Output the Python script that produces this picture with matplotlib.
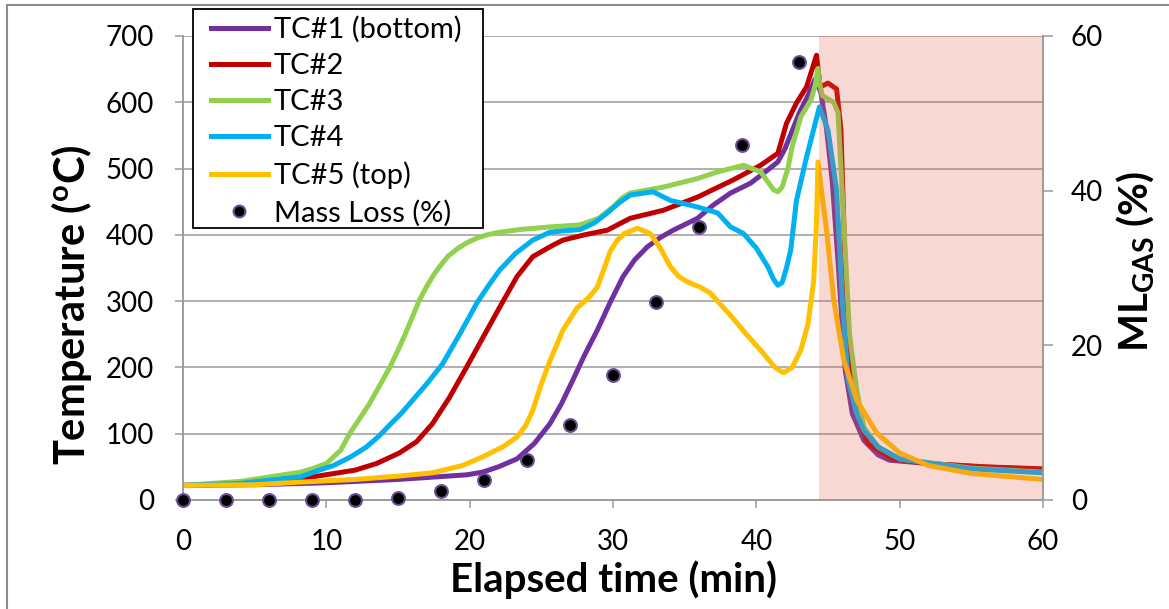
import numpy as np
import matplotlib
matplotlib.use("Agg")
import matplotlib.pyplot as plt
from matplotlib.lines import Line2D
from matplotlib.patches import Rectangle

plt.rcParams['font.family'] = ['Lato', 'DejaVu Sans']
plt.rcParams['mathtext.fontset'] = 'custom'
plt.rcParams['mathtext.rm'] = 'Lato'
plt.rcParams['mathtext.bf'] = 'Lato:bold'

# thermocouple readings (time in min, temperature in C)
t_tc1 = [0, 5, 10, 15, 19.8, 20.9, 22, 23.3, 24.5, 25.6, 26.4, 27.2, 28, 28.9, 29.8,
         30.7, 31.5, 32.4, 33.3, 34.2, 35.9, 37, 38.2, 39.6, 40.8, 41.5, 42.0, 43.0,
         43.6, 44.1, 44.5, 44.9, 45.3, 45.7, 46.2, 46.7, 47.5, 48.5, 49.3, 52, 55.6, 60]
T_tc1 = [22, 23, 26, 31, 38, 42, 50, 62, 85, 115, 145, 181, 218, 256, 298,
         337, 362, 382, 396, 407, 425, 445, 463, 478, 498, 510, 530, 584,
         610, 635, 615, 560, 480, 360, 196, 130, 90, 68, 60, 55, 50, 46]

t_tc2 = [0, 5, 8.2, 12, 13.5, 15.1, 16.3, 17.4, 18.6, 19.8, 21, 22.1, 23.3, 24.4, 25.6,
         26.5, 28, 29.6, 31.2, 33.5, 35.9, 38.4, 40.3, 41.5, 42.1, 42.8, 43.5, 44.2,
         44.45, 45.0, 45.6, 45.9, 46.2, 46.5, 47.0, 47.8, 49.5, 52, 56, 60]
T_tc2 = [22, 25, 32, 45, 55, 71, 88, 115, 155, 201, 248, 291, 337, 367, 382,
         392, 400, 407, 425, 437, 457, 483, 505, 523, 568, 599, 623, 671,
         623, 629, 620, 560, 350, 220, 130, 85, 62, 55, 50, 47]

t_tc3 = [0, 4, 8.2, 9, 10, 11, 11.65, 12.3, 13, 13.7, 14.45, 15, 15.5, 16, 16.5, 17,
         17.5, 17.9, 18.5, 19.2, 19.8, 20.5, 21.2, 22.1, 23.5, 25.6, 27.7, 29, 30.0,
         30.6, 31.2, 33.5, 35.9, 37.3, 39.1, 40.3, 40.8, 41.2, 41.5, 41.8, 42.2, 42.5,
         43.1, 43.8, 44.1, 44.3, 44.45, 44.6, 45.4, 45.7, 46.1, 46.5, 47.0, 47.5, 48.5,
         50, 55, 60]
T_tc3 = [22, 28, 42, 47, 55, 75, 101, 122, 145, 172, 201, 226, 250, 276, 302, 322,
         340, 352, 368, 380, 388, 395, 400, 404, 408, 412, 415, 425, 442,
         455, 463, 472, 485, 495, 505, 495, 480, 468, 465, 472, 500, 533,
         578, 603, 625, 651, 625, 610, 600, 584, 420, 250, 166, 110, 80,
         62, 48, 42]

t_tc4 = [0, 4, 8.2, 9.5, 10.5, 11.7, 12.8, 13.7, 14.5, 15.2, 15.8, 17, 18.1, 19.3, 20.5,
         21.3, 22.1, 23.2, 24.4, 25.6, 26.5, 27.7, 28.7, 29.6, 30.4, 31.2, 32.8, 34.0,
         35.9, 37.3, 38.2, 39.1, 40, 40.8, 41.2, 41.5, 41.8, 42.1, 42.4, 42.8, 43.5,
         44.4, 45.0, 45.6, 46.0, 46.4, 47.0, 47.5, 48.5, 50, 55, 60]
T_tc4 = [22, 25, 35, 45, 52, 65, 80, 97, 115, 130, 145, 175, 205, 250, 297,
         323, 347, 372, 392, 404, 406, 408, 418, 433, 448, 460, 465, 452,
         442, 433, 412, 402, 380, 352, 333, 324, 328, 350, 377, 452, 517,
         593, 558, 468, 300, 181, 130, 105, 80, 62, 47, 41]

t_tc5 = [0, 5, 8.2, 12, 15, 17.4, 19.5, 20.9, 22.3, 23.3, 23.9, 24.4, 25.0, 25.6, 26.5,
         27.5, 28.3, 28.9, 29.4, 29.8, 30.3, 30.8, 31.7, 32.6, 33.3, 34.0, 34.6, 35.2,
         36.1, 36.8, 37.5, 38.3, 39.3, 40.3, 41.3, 41.9, 42.5, 43.1, 43.6, 44.0, 44.2,
         44.3, 44.6, 44.9, 45.4, 46.1, 47.0, 48.4, 50.0, 52, 55, 60]
T_tc5 = [22, 23, 27, 31, 36, 41, 52, 65, 80, 95, 112, 135, 175, 210, 256,
         290, 305, 321, 350, 375, 392, 402, 410, 402, 380, 352, 337, 329,
         321, 312, 295, 276, 250, 226, 200, 192, 200, 226, 265, 330, 420,
         510, 457, 407, 302, 211, 151, 101, 71, 52, 40, 31]

# gas mass loss (%)
t_ml = [0, 3, 6, 9, 12, 15, 18, 21, 24, 27, 30, 33, 36, 39, 43]
ml = [0, 0, 0, 0, 0, 0.3, 1.2, 2.6, 5.2, 9.7, 16.2, 25.6, 35.3, 45.9, 56.6]

labels = ["TC#1 (bottom)", "TC#2", "TC#3", "TC#4", "TC#5 (top)"]
colors = ["#7030A0", "#C00000", "#92D050", "#00B0F0", "#FFC000"]
series = [(t_tc1, T_tc1), (t_tc2, T_tc2), (t_tc3, T_tc3), (t_tc4, T_tc4), (t_tc5, T_tc5)]

shade_start, shade_end = 44.35, 60

W, H = 1169, 609
fig = plt.figure(figsize=(W / 100, H / 100), dpi=100)
ax = fig.add_axes([183 / W, 1 - 500 / H, 860 / W, 464 / H])
ax2 = ax.twinx()

grid_c = "#9a9a9a"
ax.set_xlim(0, 60)
ax.set_ylim(0, 700)
ax2.set_ylim(0, 60)
ax.set_xticks(range(0, 61, 10))
ax.set_yticks(range(0, 701, 100))
ax2.set_yticks(range(0, 61, 20))
ax.grid(axis='y', color=grid_c, lw=1.1)
ax.set_axisbelow(True)

for a in (ax, ax2):
    a.spines['top'].set_visible(False)
    for s in ['left', 'right', 'bottom']:
        a.spines[s].set_color(grid_c)
        a.spines[s].set_linewidth(1.1)
ax.tick_params(axis='both', colors=grid_c, labelcolor='black', labelsize=20,
               length=6, width=1.1, direction='out', pad=15)
ax2.tick_params(axis='y', colors=grid_c, labelcolor='black', labelsize=20,
                length=7, width=1.1, direction='out', pad=13)

handles = []
for (t, T), lab, c in zip(series, labels, colors):
    ln, = ax.plot(t, T, color=c, lw=3.6, solid_joinstyle='round', label=lab)
    handles.append(ln)

ax2.axvspan(shade_start, shade_end, color="#E66450", alpha=0.25, lw=0, zorder=1)
ax2.scatter(t_ml, ml, s=85, color='black', edgecolors='#6a4f94', linewidths=1.5,
            zorder=3, clip_on=False)
handles.append(Line2D([], [], ls='none', marker='o', ms=8.5, mfc='black',
                      mec='#6a4f94', mew=1.5))

ax.set_xlabel("Elapsed time (min)", fontsize=29, fontweight='bold', labelpad=4)
ax.set_ylabel(r"Temperature ($\mathbf{^o}$C)", fontsize=30, fontweight='bold', labelpad=8)
ax.yaxis.label.set_y(0.42)
ax2.set_ylabel(r"$\mathbf{ML_{GAS}}$ (%)", fontsize=29, fontweight='bold', labelpad=8)
ax2.yaxis.label.set_y(0.515)

# legend box drawn as its own patch, entries placed inside it
fig.patches.append(Rectangle((193 / W, 1 - 228 / H), 290 / W, 219 / H,
                             transform=fig.transFigure, facecolor='white',
                             edgecolor='black', lw=1.3, zorder=3))
fig.legend(handles, labels + ["Mass Loss (%)"], loc='upper left',
           bbox_to_anchor=(211 / W, 1 - 16 / H), borderaxespad=0, borderpad=0,
           fontsize=21, frameon=False, handlelength=1.95, handletextpad=0.2,
           labelspacing=0.35)

# outer chart border
fig.patches.append(Rectangle((7 / W, -0.1), 1.2, 1.1 - 5 / H, transform=fig.transFigure,
                             fill=False, edgecolor='#8c8c8c', lw=1.5))

fig.savefig("out.png", dpi=100)
